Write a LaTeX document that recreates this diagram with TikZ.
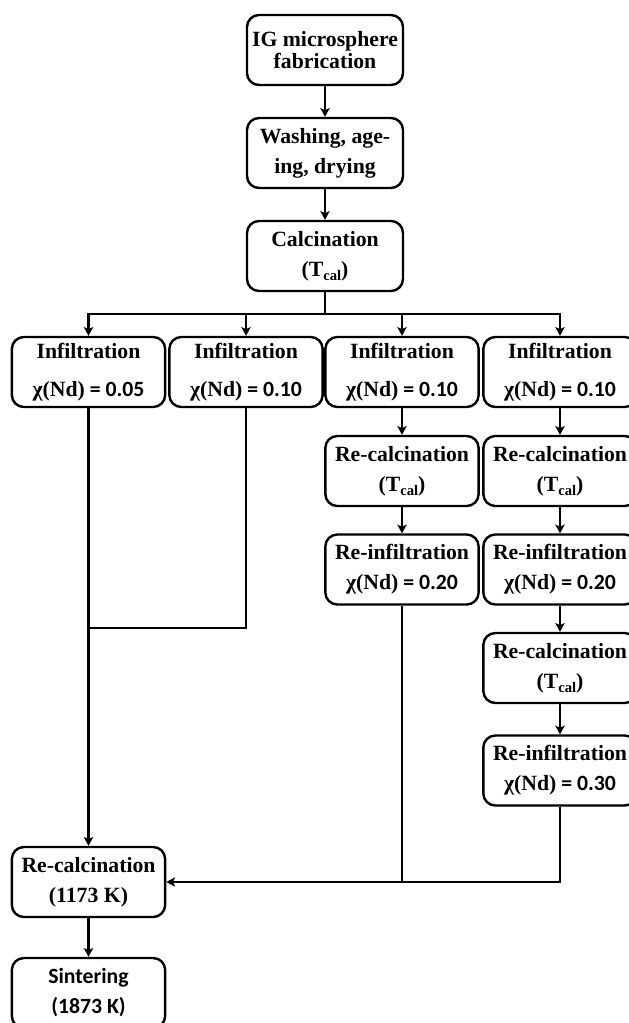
\documentclass[tikz,border=0pt]{standalone}
\usepackage{fontspec}
\setmainfont{Liberation Serif}
\newfontfamily\calibri{Carlito}
\usetikzlibrary{arrows.meta}
\newcommand{\tcal}{(T\raisebox{-.45ex}{\fontsize{11}{11}\selectfont cal})}
\newcommand{\chind}[1]{{\rmfamily χ(Nd)}{\calibri\ = #1}}
\begin{document}
\begin{tikzpicture}[x=0.75pt,y=-0.75pt,
  every node/.style={inner sep=0pt,font=\bfseries\fontsize{16.3}{22.5}\selectfont},
  stage/.style={draw,line width=1.8pt,rounded corners=9pt,align=center,
    minimum width=115pt,minimum height=52.5pt},
  link/.style={line width=1.8pt},
  flow/.style={link,-{Stealth[length=6.5pt,width=7pt,inset=1.5pt]}}]

 \useasboundingbox (0,0) rectangle (628,1023);

 \node[stage,minimum width=117pt] (fab) at (325,50) {IG microsphere\\[-6pt]fabrication};
 \node[stage,minimum width=117pt] (wash) at (325,153) {Washing, age-\\ing, drying};
 \node[stage,minimum width=117pt] (calc) at (325,256) {Calcination\\\tcal};

 \node[stage] (inf1) at (88.5,372) {Infiltration\\[6pt]\chind{0.05}};
 \node[stage] (inf2) at (246,372) {Infiltration\\[6pt]\chind{0.10}};
 \node[stage] (inf3) at (402,372) {Infiltration\\[6pt]\chind{0.10}};
 \node[stage] (inf4) at (560,372) {Infiltration\\[6pt]\chind{0.10}};

 \node[stage] (rcal3) at (402,471) {Re-calcination\\\tcal};
 \node[stage] (rinf3) at (402,569.5) {Re-infiltration\\\chind{0.20}};
 \node[stage] (rcal4a) at (560,471) {Re-calcination\\\tcal};
 \node[stage] (rinf4a) at (560,569.5) {Re-infiltration\\\chind{0.20}};
 \node[stage] (rcal4b) at (560,668) {Re-calcination\\\tcal};
 \node[stage] (rinf4b) at (560,770.5) {Re-infiltration\\\chind{0.30}};

 \node[stage] (rcal) at (88.5,882) {Re-calcination\\(1173 K)};
 \node[stage,font=\bfseries\calibri\fontsize{16.3}{22.5}\selectfont] (sint) at (88.5,993) {Sintering\\(1873 K)};

 \coordinate (bus) at (325,314);
 \coordinate (j2) at (88.5,628);
 \coordinate (m3) at (402,882);

\foreach \f/\t in {fab/wash,wash/calc,inf1/rcal,rcal/sint,inf3/rcal3,rcal3/rinf3,
  inf4/rcal4a,rcal4a/rinf4a,rinf4a/rcal4b,rcal4b/rinf4b}
 \draw[flow] (\f) -- (\t);
\foreach \t in {inf1,inf2,inf3,inf4}
 \draw[flow] (calc) -- (bus) -| (\t);
 \draw[link] (inf2) |- (j2);
 \draw[link] (rinf3) -- (m3);
 \draw[flow] (rinf4b) |- (rcal);
\end{tikzpicture}
\end{document}
